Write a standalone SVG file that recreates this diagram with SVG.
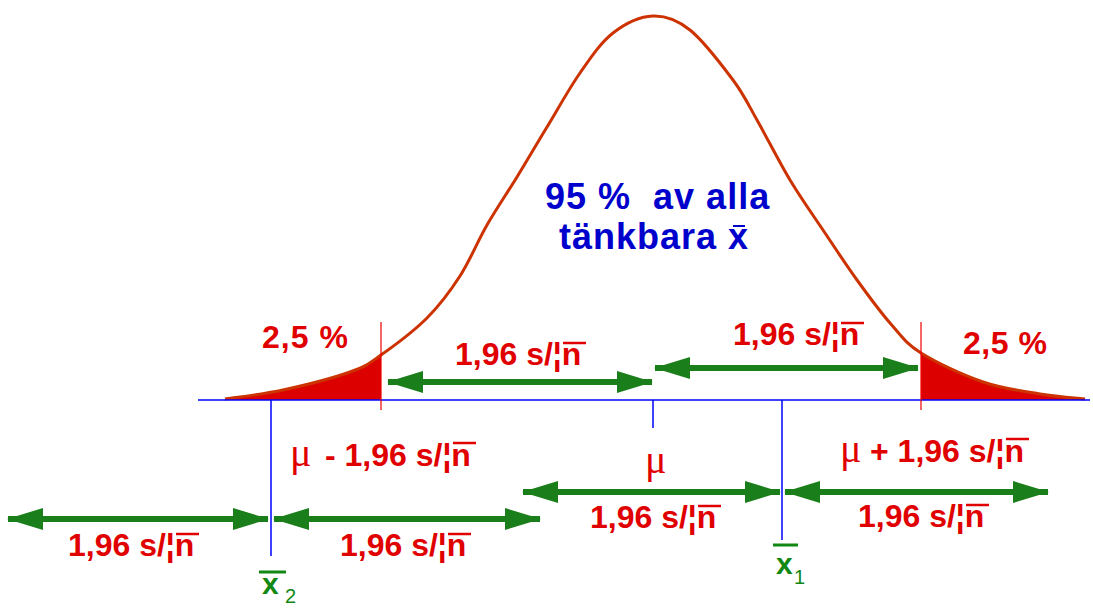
<svg xmlns="http://www.w3.org/2000/svg" width="1093" height="608" viewBox="0 0 1093 608">
<style>
.red{fill:#e00000;font-family:"Liberation Sans",Arial,sans-serif;font-weight:bold;font-size:32px}
.mu{font-family:"Liberation Serif","Times New Roman",serif;font-weight:normal;font-size:40px}
.blue{fill:#0000cc;font-family:"Liberation Sans",Arial,sans-serif;font-weight:bold;font-size:36px;letter-spacing:1px}
.gx{fill:#118811;font-family:"Liberation Sans",Arial,sans-serif;font-weight:bold;font-size:30px}
.gs{fill:#118811;font-family:"Liberation Sans",Arial,sans-serif;font-size:20px}
.arr{stroke:#1a7f1a;stroke-width:6;fill:none;marker-start:url(#ah);marker-end:url(#ah)}
.tick{stroke:#0000ff;stroke-width:1.5}
.rl{stroke:#ee0000;stroke-width:1.2}
.ov{stroke:#e00000;stroke-width:2.5}
</style>
<defs>
<marker id="ah" markerUnits="userSpaceOnUse" viewBox="0 0 36 22" markerWidth="36" markerHeight="22" refX="35" refY="11" orient="auto-start-reverse">
<path d="M0,0 L36,11 L0,22 Z" fill="#1a7f1a"/>
</marker>
</defs>
<rect width="1093" height="608" fill="#ffffff"/>
<g id="tails">
<path d="M225,400 L225,399 C234.7,397.5 262.2,394.5 283,390 C303.8,385.5 333.7,377.8 350,372 C366.3,366.2 368.2,364 381,355 L381,400 Z" fill="#dd0000"/>
<path d="M921,400 L921,353 C936.5,362.8 963.2,375.2 983,382 C1002.8,388.8 1023,391.2 1040,394 C1057,396.8 1077.5,398.2 1085,399 L1085,400 Z" fill="#dd0000"/>
</g>
<g id="curve">
<path d="M225,399 C234.7,397.5 262.2,394.5 283,390 C303.8,385.5 333.7,377.8 350,372 C366.3,366.2 368.2,364 381,355 C393.8,346 413.8,331.2 427,318 C440.2,304.8 450,291.5 460,276 C470,260.5 477.5,241.5 487,225 C496.5,208.5 507,193.3 517,177 C527,160.7 536.5,144.3 547,127 C557.5,109.7 569,88.7 580,73 C591,57.3 600.8,42.5 613,33 C625.2,23.5 640.2,16.5 653,16 C665.8,15.5 676.7,19.3 690,30 C703.3,40.7 721.8,65 733,80 C744.2,95 747.5,103.3 757,120 C766.5,136.7 779,161.7 790,180 C801,198.3 811.8,213.3 823,230 C834.2,246.7 845.8,264.5 857,280 C868.2,295.5 879.3,310.8 890,323 C900.7,335.2 905.5,343.2 921,353 C936.5,362.8 963.2,375.2 983,382 C1002.8,388.8 1023,391.2 1040,394 C1057,396.8 1077.5,398.2 1085,399" fill="none" stroke="#cc3300" stroke-width="3" stroke-linejoin="round"/>
</g>
<g id="axis">
<line x1="198" y1="400" x2="1090" y2="400" stroke="#0000ff" stroke-width="1.5"/>
<line class="tick" x1="271" y1="400" x2="271" y2="556"/>
<line class="tick" x1="653" y1="400" x2="653" y2="428"/>
<line class="tick" x1="782" y1="400" x2="782" y2="540"/>
<line class="rl" x1="381" y1="322" x2="381" y2="410"/>
<line class="rl" x1="921" y1="322" x2="921" y2="410"/>
</g>
<g id="connectors">
<line class="arr" x1="388" y1="382" x2="652" y2="382"/>
<line class="arr" x1="655" y1="368" x2="918" y2="368"/>
<line class="arr" x1="8" y1="519" x2="268" y2="519"/>
<line class="arr" x1="274" y1="519" x2="540" y2="519"/>
<line class="arr" x1="523" y1="492" x2="780" y2="492"/>
<line class="arr" x1="785" y1="492" x2="1048" y2="492"/>
</g>
<g id="center-label">
<text class="blue" x="545" y="209" xml:space="preserve">95 %  av alla</text>
<text class="blue" x="559" y="249">tänkbara x</text>
<line x1="733" y1="226" x2="745" y2="226" stroke="#0000cc" stroke-width="2"/>
</g>
<g id="tail-labels">
<text class="red" x="262" y="348" font-size="35" letter-spacing="1">2,5 %</text>
<text class="red" x="963" y="354" font-size="34" letter-spacing="0.5">2,5 %</text>
</g>
<g id="upper-labels">
<text class="red" x="455" y="365">1,96 s/¦n</text>
<line class="ov" x1="563" y1="343" x2="586" y2="343"/>
<text class="red" x="733" y="345">1,96 s/¦n</text>
<line class="ov" x1="841" y1="323" x2="864" y2="323"/>
</g>
<g id="mu-labels">
<text class="red" x="290" y="466"><tspan class="mu">μ</tspan><tspan x="325">- 1,96 s/¦n</tspan></text>
<line class="ov" x1="453" y1="443" x2="476" y2="443"/>
<text class="red" x="840" y="462"><tspan class="mu">μ</tspan><tspan x="870">+ 1,96 s/¦n</tspan></text>
<line class="ov" x1="1006" y1="439" x2="1029" y2="439"/>
<text class="red mu" x="645" y="473">μ</text>
</g>
<g id="lower-labels">
<text class="red" x="590" y="528">1,96 s/¦n</text>
<line class="ov" x1="698" y1="506" x2="721" y2="506"/>
<text class="red" x="858" y="527">1,96 s/¦n</text>
<line class="ov" x1="966" y1="505" x2="989" y2="505"/>
<text class="red" x="68" y="556">1,96 s/¦n</text>
<line class="ov" x1="176" y1="534" x2="199" y2="534"/>
<text class="red" x="340" y="556">1,96 s/¦n</text>
<line class="ov" x1="448" y1="534" x2="471" y2="534"/>
</g>
<g id="xbar2">
<line x1="259" y1="572" x2="286" y2="572" stroke="#118811" stroke-width="3"/>
<text class="gx" x="262" y="594">x</text>
<text class="gs" x="285" y="603" font-size="14">2</text>
</g>
<g id="xbar1">
<line x1="773" y1="545" x2="798" y2="545" stroke="#118811" stroke-width="3"/>
<text class="gx" x="776" y="574">x</text>
<text class="gs" x="794" y="584">1</text>
</g>
</svg>
